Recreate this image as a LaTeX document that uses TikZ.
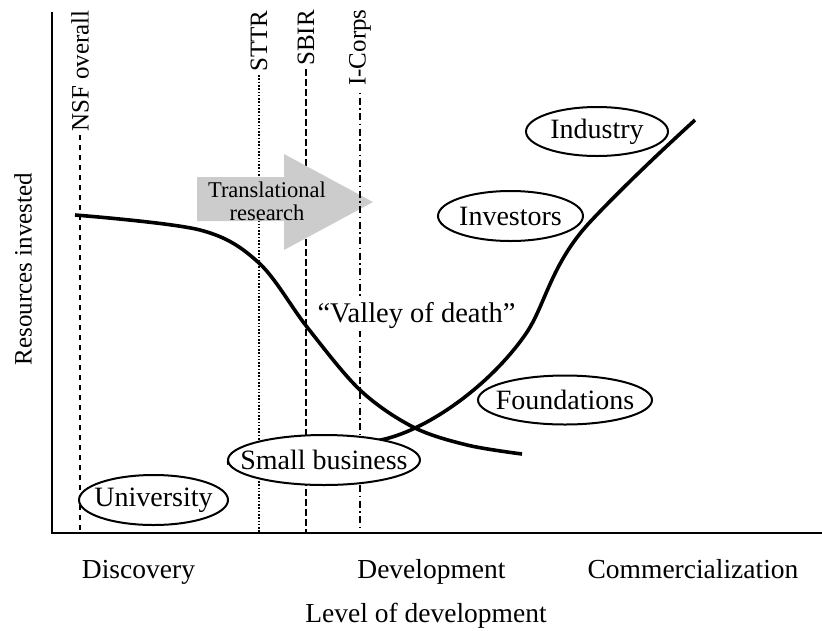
\documentclass[tikz,border=0pt]{standalone}
\usepackage{fontspec}
\usepackage{amsmath,mathtools}
\setmainfont{Liberation Serif}
\usetikzlibrary{shapes.geometric}

\begin{document}
\begin{tikzpicture}[
    x=1pt, y=-1pt,
    axis/.style={line width=2.2pt},
    curve/.style={line width=3.6pt, line join=round},
    grant/.style={line width=1.8pt},
    agent/.style={
      ellipse,
      draw,
      line width=2pt,
      fill=white,
      inner sep=0pt,
      font=\fontsize{28}{32}\selectfont,
    },
  ]
  \useasboundingbox (0,0) rectangle (822,630);
  % axes
  \coordinate (origin) at (52,533);
  \coordinate (y-top)  at (52,12);
  \coordinate (x-end)  at (822,533);
  \draw[axis] (y-top) -- (origin) -- (x-end);
  \node[rotate=90, font=\fontsize{25}{28}\selectfont] (resources) at (23,269)
  {Resources invested};
  \begin{scope}[
    every node/.style={
      anchor=base,
      font=\fontsize{27.5}{30}\selectfont,
    },
    ]
    \node (discovery)         at (138.5,578) {Discovery};
    \node (development)       at (431.5,578) {Development};
    \node (commercialization) at (693,578)   {Commercialization};
    \node (level)             at (426,622)   {Level of development};
  \end{scope}
  % funding programs
  \begin{scope}[
    every node/.style={
      rotate=90,
      anchor=west,
      inner xsep=3pt,
      inner ysep=0pt,
      font=\fontsize{25}{28}\selectfont,
    },
    ]
    \node (nsf)    at (80,135) {NSF overall};
    \node (sttr)   at (259,75) {STTR};
    \node (sbir)   at (306,69) {SBIR};
    \node (icorps) at (360,89) {I-Corps};
  \end{scope}
  \draw[grant, dash pattern=on 5pt off 5pt] (nsf.west) -- (nsf.west |- origin);
  \draw[grant, dash pattern=on 1.6pt off 1.7pt] (sttr.west) -- (sttr.west |- origin);
  \draw[grant, dash pattern=on 7pt off 3pt] (sbir.west) -- (sbir.west |- origin);
  % translational research arrow
  \fill[gray!40] (197,177) -- (284,177) -- (284,154) -- (373,202)
    -- (284,250) -- (284,221) -- (197,221) -- cycle;
  \node[align=center, font=\fontsize{22.5}{23}\selectfont] (translational) at (267,201)
  {Translational\\research};
  \draw[grant, dash pattern=on 7pt off 3.5pt on 1.5pt off 3.5pt, dash phase=7pt]
    (icorps.west) -- (icorps.west |- origin);
  % resource curves
  \draw[curve] plot[smooth, tension=0.55] coordinates {
    (75,215) (200,230) (259,263) (307,327) (360,390) (413,427) (467,445) (522,454)};
  \draw[curve] (227,463) .. controls (300,455) and (350,447) .. (385,439)
    .. controls (430,428) and (490,385) .. (525,335)
    .. controls (545,307) and (550,265) .. (590,222)
    .. controls (620,190) and (660,152) .. (695,120);
  % funding sources
  \node[agent, minimum width=149pt, minimum height=50pt] (university)     at (153.5,500) {\clap{University}};
  \node[agent, minimum width=192pt, minimum height=50pt] (small-business) at (324,460)   {\clap{Small business}};
  \node[agent, minimum width=174pt, minimum height=49pt] (foundations)    at (565,400)   {\clap{Foundations}};
  \node[agent, minimum width=145pt, minimum height=50pt] (investors)      at (510.5,216) {\clap{Investors}};
  \node[agent, minimum width=142pt, minimum height=49pt] (industry)       at (597,131.5) {\clap{Industry}};
  \node[anchor=base, fill=white, inner sep=3pt, font=\fontsize{28.5}{30}\selectfont] (valley)
  at (416.5,322) {``Valley of death''};
\end{tikzpicture}
\end{document}
